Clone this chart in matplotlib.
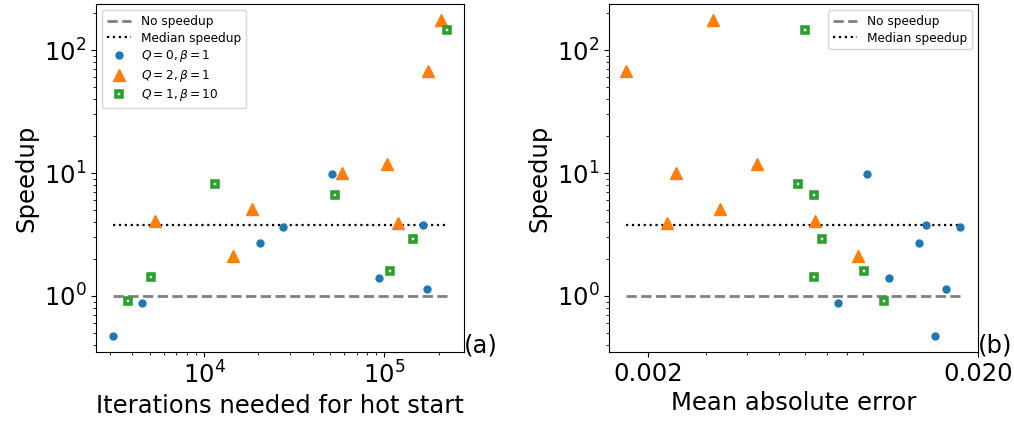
import numpy as np
import matplotlib
matplotlib.use("Agg")
import matplotlib.pyplot as plt
from matplotlib.ticker import NullFormatter

# speedup vs. iterations for hot start (a) and vs. mean absolute error (b)
# Q=0, beta=1
iters_q0 = [3119, 4528, 20400, 27300, 51200, 93100, 164000, 172000]
mae_q0 = [0.01485, 0.00752, 0.01324, 0.01762, 0.00923, 0.01072, 0.01390, 0.01600]
speed_q0 = [0.471, 0.877, 2.69, 3.61, 9.76, 1.41, 3.77, 1.146]

# Q=2, beta=1
iters_q2 = [205000, 174000, 103900, 57900, 5360, 18340, 14410, 119500]
mae_q2 = [0.003155, 0.001715, 0.004270, 0.002432, 0.006412, 0.003321, 0.008678, 0.002288]
speed_q2 = [176.5, 68.1, 11.9, 10.1, 4.08, 5.08, 2.12, 3.96]

# Q=1, beta=10
iters_q1 = [222900, 11460, 52950, 3775, 5076, 107100, 143500]
mae_q1 = [0.005981, 0.005708, 0.006355, 0.010356, 0.006381, 0.009025, 0.006721]
speed_q1 = [144.5, 8.17, 6.59, 0.916, 1.418, 1.604, 2.915]

FS = 17.5
LEG_FS = 8.7

all_speed = speed_q0 + speed_q2 + speed_q1
median_speed = np.median(all_speed)

fig = plt.figure(figsize=(10.14, 4.21), dpi=100)
ax1 = fig.add_axes([96 / 1014, 1 - 352 / 421, 368 / 1014, 348 / 421])
ax2 = fig.add_axes([609 / 1014, 1 - 352 / 421, 369 / 1014, 348 / 421])


def draw_panel(ax, xq0, xq2, xq1, show_markers_in_legend):
    xs = xq0 + xq2 + xq1
    lo, hi = min(xs), max(xs)
    ax.plot([lo, hi], [1, 1], color="gray", ls="--", lw=2, label="No speedup")
    ax.plot([lo, hi], [median_speed, median_speed], color="black", ls=":", lw=1.6,
            label="Median speedup")
    ax.plot(xq0, speed_q0, ls="none", marker="o", ms=5, color="tab:blue",
            label=r"$Q=0, \beta=1$" if show_markers_in_legend else "_nolegend_")
    ax.plot(xq2, speed_q2, ls="none", marker="^", ms=8, color="tab:orange",
            label=r"$Q=2, \beta=1$" if show_markers_in_legend else "_nolegend_")
    ax.plot(xq1, speed_q1, ls="none", marker="s", ms=4.6, mew=2.6, mfc="white",
            mec="tab:green",
            label=r"$Q=1, \beta=10$" if show_markers_in_legend else "_nolegend_")
    ax.set_xscale("log")
    ax.set_yscale("log")
    ax.set_ylabel("Speedup", fontsize=FS)
    ax.tick_params(labelsize=FS)
    ax.xaxis.set_minor_formatter(NullFormatter())
    ax.yaxis.set_minor_formatter(NullFormatter())


draw_panel(ax1, iters_q0, iters_q2, iters_q1, True)
ax1.set_xlabel("Iterations needed for hot start", fontsize=FS)
ax1.legend(loc="upper left", fontsize=LEG_FS, labelspacing=0.3)
ax1.text(1.0, 0.0, "(a)", transform=ax1.transAxes, fontsize=FS)

draw_panel(ax2, mae_q0, mae_q2, mae_q1, False)
ax2.set_xticks([0.002, 0.02], labels=["0.002", "0.020"])
ax2.xaxis.set_minor_formatter(NullFormatter())
ax2.set_xlabel("Mean absolute error", fontsize=FS)
ax2.legend(loc="upper right", fontsize=LEG_FS, labelspacing=0.3)
ax2.text(1.0, 0.0, "(b)", transform=ax2.transAxes, fontsize=FS)

fig.savefig("out.png", dpi=100)
